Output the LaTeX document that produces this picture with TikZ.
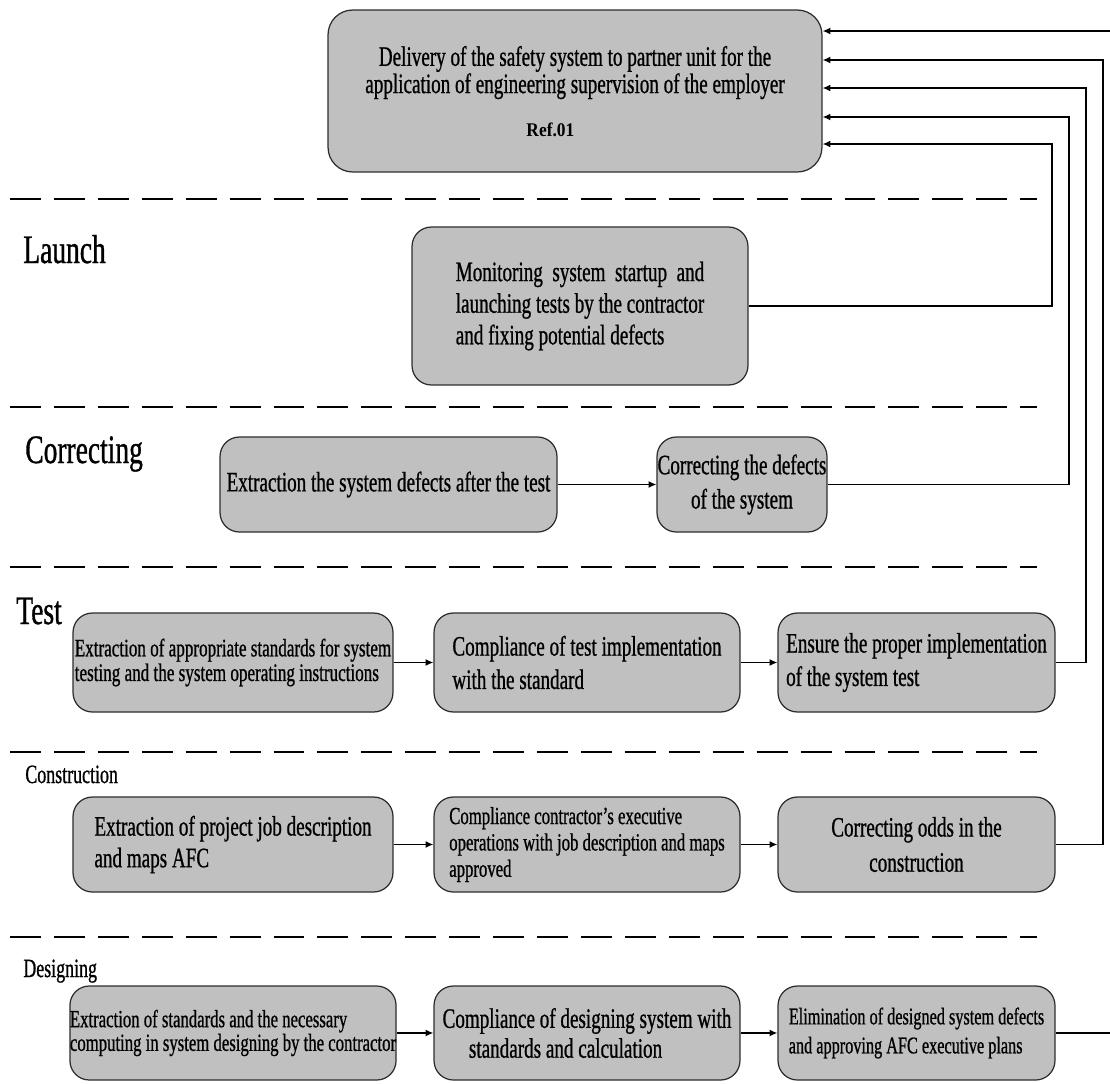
\documentclass[tikz,border=0pt]{standalone}
\usepackage{fontspec}
\setmainfont{Liberation Serif}[FakeStretch=0.68, FakeBold=0.8]
\newfontfamily\reffont{Liberation Serif}[FakeStretch=0.9]
\usepackage{calc}
\usetikzlibrary{arrows.meta}
\definecolor{boxfill}{RGB}{192,192,192}
\definecolor{boxline}{RGB}{45,45,45}
\tikzset{
  stage/.style={draw=boxline, fill=boxfill, line width=0.7pt, rounded corners=11pt, inner sep=0pt, align=left},
  flow/.style={-{Latex[length=4.5pt,width=4pt]}, line width=0.8pt},
  link/.style={line width=0.8pt},
  lane/.style={line width=1.2pt, dash pattern=on 17.6pt off 7.4pt},
  phase/.style={anchor=base west, inner sep=0pt, font=\fontsize{23}{23}\selectfont},
  subphase/.style={anchor=base west, inner sep=0pt, font=\fontsize{15}{15}\selectfont}
}
\begin{document}
\begin{tikzpicture}[x=0.02cm, y=-0.02cm]
\useasboundingbox (0,0) rectangle (1110,1083);
% lane separators
\foreach \y in {199,407,567,752,937}
  \draw[lane] (10,\y) -- (1037,\y);
% phase labels
\node[phase] (launchlbl) at (23,263) {Launch};
\node[phase] (correctlbl) at (25,463) {Correcting};
\node[phase] (testlbl) at (16,624) {Test};
\node[subphase] (constlbl) at (25,783) {Construction};
\node[subphase] (designlbl) at (23,977) {Designing};
% top
\node[stage, align=center, rounded corners=14pt, font=\fontsize{16}{15.5}\selectfont, minimum width=9.88cm, minimum height=3.24cm] (deliv) at (575,91)
  {\\[-4pt]Delivery of the safety system to partner unit for the\\application of engineering supervision of the employer\\[9pt]{\reffont\fontsize{11}{11}\selectfont\bfseries Ref.01}\hspace*{28pt}\mbox{}};
% launch
\node[stage, font=\fontsize{16}{18}\selectfont, minimum width=6.72cm, minimum height=3.16cm] (monitor) at (580,306)
  {\makebox[\widthof{launching tests by the contractor}][s]{Monitoring system startup and}\\launching tests by the contractor\\and fixing potential defects};
% correcting
\node[stage, font=\fontsize{16}{18}\selectfont, minimum width=6.74cm, minimum height=1.9cm] (cdetect) at (388.5,484.5)
  {Extraction the system defects after the test};
\node[stage, align=center, font=\fontsize{16}{19.5}\selectfont, minimum width=3.4cm, minimum height=1.9cm] (cfix) at (742,484.5)
  {Correcting the defects\\of the system};
% test
\node[stage, font=\fontsize{14.3}{12.5}\selectfont, minimum width=6.4cm, minimum height=1.98cm] (tstd) at (233,662.5)
  {Extraction of appropriate standards for system\\testing and the system operating instructions};
\node[stage, font=\fontsize{16}{19}\selectfont, minimum width=6.12cm, minimum height=1.98cm] (tcomp) at (587,662.5)
  {Compliance of test implementation\\with the standard};
\node[stage, font=\fontsize{16}{19}\selectfont, minimum width=5.54cm, minimum height=1.98cm] (tensure) at (916.5,662.5)
  {Ensure the proper implementation\\of the system test};
% construction
\node[stage, font=\fontsize{16}{18}\selectfont, minimum width=6.4cm, minimum height=1.9cm] (kdesc) at (233,844.5)
  {Extraction of project job description\\and maps AFC};
\node[stage, font=\fontsize{14}{15}\selectfont, minimum width=6.12cm, minimum height=1.9cm] (kcomp) at (587,844.5)
  {Compliance contractor's executive\\operations with job description and maps\\approved};
\node[stage, align=center, font=\fontsize{16}{20}\selectfont, minimum width=5.54cm, minimum height=1.9cm] (kfix) at (916.5,844.5)
  {Correcting odds in the\\construction};
% designing
\node[stage, font=\fontsize{14}{13.5}\selectfont, minimum width=6.4cm, minimum height=1.88cm] (dstd) at (233,1033)
  {Extraction of standards and the necessary\\computing in system designing by the contractor};
\node[stage, font=\fontsize{16}{17}\selectfont, minimum width=6.12cm, minimum height=1.88cm] (dcomp) at (587,1033)
  {Compliance of designing system with\\\hspace*{15pt}standards and calculation};
\node[stage, font=\fontsize{13.6}{16.5}\selectfont, minimum width=5.54cm, minimum height=1.88cm] (dfix) at (916.5,1033)
  {Elimination of designed system defects\\and approving AFC executive plans};
% flow inside rows
\draw[flow] (cdetect) -- (cfix);
\draw[flow] (tstd) -- (tcomp);
\draw[flow] (tcomp) -- (tensure);
\draw[flow] (kdesc) -- (kcomp);
\draw[flow] (kcomp) -- (kfix);
\draw[flow] (dstd) -- (dcomp);
\draw[flow] (dcomp) -- (dfix);
% feedback to delivery
\coordinate (outtop) at (1110,31);
\coordinate (outbot) at (1110,1033);
\draw[flow] (outtop) -- (deliv.east |- outtop);
\draw[flow] (kfix.east) -| (1103,60) -- (deliv.east |- 0,60);
\draw[flow] (tensure.east) -| (1086,88) -- (deliv.east |- 0,88);
\draw[flow] (cfix.east) -| (1069,117) -- (deliv.east |- 0,117);
\draw[flow] (monitor.east) -| (1052,144) -- (deliv.east |- 0,144);
\draw[link] (dfix.east) -- (outbot);
\end{tikzpicture}
\end{document}
